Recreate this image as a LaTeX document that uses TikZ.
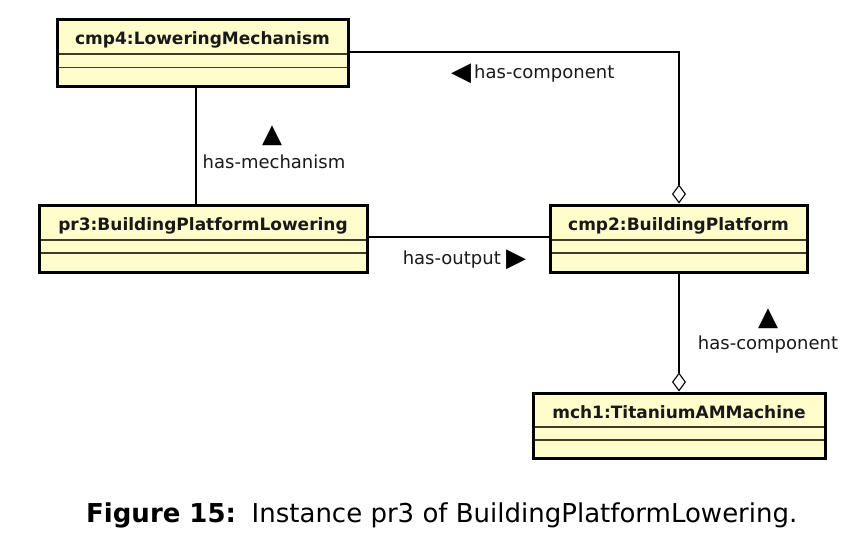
\documentclass[tikz,border=0pt]{standalone}
\usepackage{fontspec}
\setmainfont{DejaVu Sans}
\usetikzlibrary{arrows.meta,calc}
\definecolor{boxfill}{RGB}{255,253,204}
\definecolor{divline}{RGB}{60,60,40}
\tikzset{
  umlbox/.style={draw=black, line width=3pt, fill=boxfill, rectangle, inner sep=0pt},
  boxtitle/.style={font=\fontsize{17}{20}\selectfont\bfseries, text=black!90, inner sep=0pt},
  divider/.style={draw=divline, line width=1.3pt},
  conn/.style={draw=black, line width=1.1pt},
  agg/.style={conn, -{Diamond[open, length=19pt, width=14pt, line width=1.1pt]}},
  lbl/.style={font=\fontsize{18}{20}\selectfont, inner sep=0pt, text=black!90},
  tri/.style={font=\fontsize{26}{28}\selectfont, inner sep=0pt},
}
\begin{document}
\begin{tikzpicture}[x=1pt,y=-1pt]
\useasboundingbox[fill=white] (0,0) rectangle (862,542);

% boxes
\node[umlbox, minimum width=291pt, minimum height=67pt] (cmp4) at (202.5,52.5) {};
\node[umlbox, minimum width=328pt, minimum height=67pt] (pr3) at (203,238.5) {};
\node[umlbox, minimum width=257pt, minimum height=67pt] (cmp2) at (678.5,238.5) {};
\node[umlbox, minimum width=292pt, minimum height=65pt] (mch1) at (679,425.5) {};

% dividers
\draw[divider] (58.5,54) -- (346.5,54);
\draw[divider] (58.5,67.5) -- (346.5,67.5);
\draw[divider] (40.5,240) -- (365.5,240);
\draw[divider] (40.5,253) -- (365.5,253);
\draw[divider] (551.5,240) -- (805.5,240);
\draw[divider] (551.5,253) -- (805.5,253);
\draw[divider] (534.5,427) -- (823.5,427);
\draw[divider] (534.5,440) -- (823.5,440);

% titles
\node[boxtitle] (t4) at (202.5,39.5) {cmp4:LoweringMechanism};
\node[boxtitle] (t3) at (203,225.5) {pr3:BuildingPlatformLowering};
\node[boxtitle] (t2) at (678.5,225.5) {cmp2:BuildingPlatform};
\node[boxtitle] (t1) at (679,412) {mch1:TitaniumAMMachine};

% connectors
\coordinate (bend) at (679,52);
\draw[agg] (cmp4.east |- bend) -- (bend) -- (cmp2.north -| bend);
\draw[conn] (cmp4.south -| 196,0) -- (pr3.north -| 196,0);
\draw[conn] (pr3.east |- 0,237) -- (cmp2.west |- 0,237);
\draw[agg] (cmp2.south -| 679,0) -- (mch1.north -| 679,0);

% labels
\node[tri] (l1a) at (461,74) {\char"25C0};
\node[lbl, anchor=west] (l1) at (474,74) {has-component};
\node[tri] (l2a) at (272,136) {\char"25B2};
\node[lbl] (l2) at (274,162) {has-mechanism};
\node[lbl, anchor=east] (l3) at (501,260) {has-output};
\node[tri] (l3a) at (516,260) {\char"25B6};
\node[tri] (l4a) at (768,319) {\char"25B2};
\node[lbl] (l4) at (768,345) {has-component};

% caption
\node[anchor=west, inner sep=0pt, font=\fontsize{26}{28}\selectfont] (cap) at (86,515)
  {\textbf{Figure 15:}\hspace{0.6em}Instance pr3 of BuildingPlatformLowering.};
\end{tikzpicture}
\end{document}
